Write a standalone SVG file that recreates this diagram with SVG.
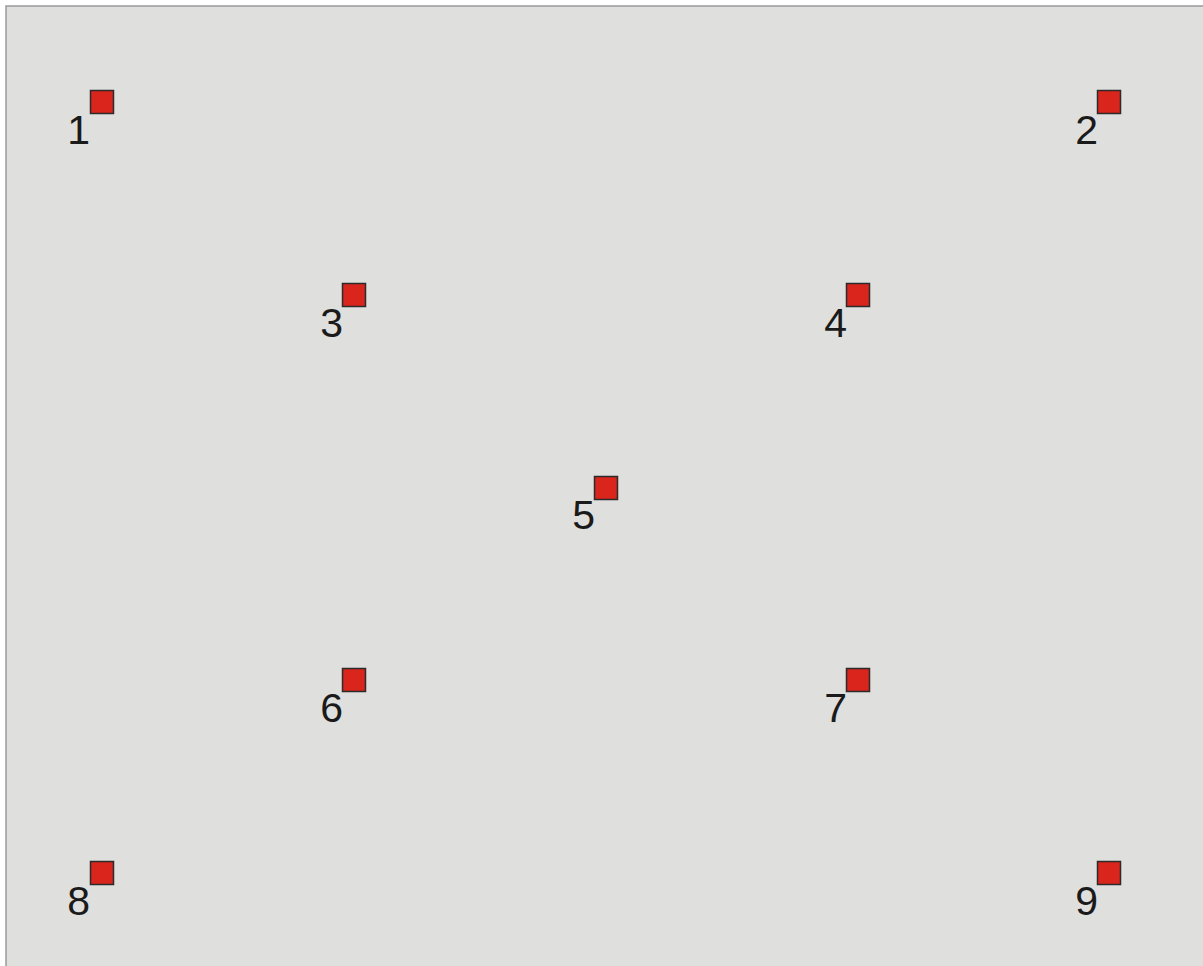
<svg xmlns="http://www.w3.org/2000/svg" width="1203" height="966" viewBox="0 0 1203 966">
<style>
.n rect{fill:#DA251D;stroke:#2b2b2b;stroke-width:1.5}
.n text{font-family:"Liberation Sans",Arial,sans-serif;font-size:41px;fill:#1a1a1a;text-anchor:end}
</style>
<rect x="0" y="0" width="1203" height="966" fill="#ffffff"/>
<rect x="6" y="6" width="1210" height="980" fill="#DFDFDD" stroke="#9a9a9a" stroke-width="1.5"/>
<g id="connectors"></g>
<g id="node1" class="n"><rect x="90.5" y="90.5" width="23" height="23"/><text x="90" y="144">1</text></g>
<g id="node2" class="n"><rect x="1097.5" y="90.5" width="23" height="23"/><text x="1098" y="144">2</text></g>
<g id="node3" class="n"><rect x="342.5" y="283.5" width="23" height="23"/><text x="343" y="337">3</text></g>
<g id="node4" class="n"><rect x="846.5" y="283.5" width="23" height="23"/><text x="847" y="337">4</text></g>
<g id="node5" class="n"><rect x="594.5" y="476.5" width="23" height="23"/><text x="595" y="529">5</text></g>
<g id="node6" class="n"><rect x="342.5" y="668.5" width="23" height="23"/><text x="343" y="722">6</text></g>
<g id="node7" class="n"><rect x="846.5" y="668.5" width="23" height="23"/><text x="847" y="722">7</text></g>
<g id="node8" class="n"><rect x="90.5" y="861.5" width="23" height="23"/><text x="90" y="915">8</text></g>
<g id="node9" class="n"><rect x="1097.5" y="861.5" width="23" height="23"/><text x="1098" y="915">9</text></g>
</svg>
